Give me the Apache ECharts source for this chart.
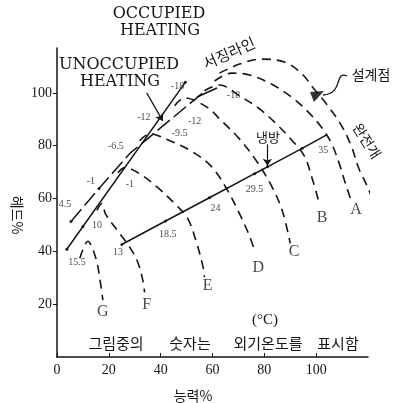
<!DOCTYPE html>
<html>
<head>
<meta charset="utf-8">
<script src="https://cdn.jsdelivr.net/npm/echarts@6/dist/echarts.min.js"></script>
<style>
  html, body { margin: 0; padding: 0; background: #fff; }
  #chart { width: 394px; height: 403px; }
</style>
</head>
<body>
<div id="chart"></div>
<script>
// 축 눈금
const xTicks = [0, 20, 40, 60, 80, 100];
const yTicks = [20, 40, 60, 80, 100];

// 성능곡선 (능력 %, 헤드 %) — 그림에서 읽은 값
const curveG = [[8.8, 37.4], [11.9, 43.8], [15.0, 37.4], [16.5, 29.8], [17.7, 21.5]];
const curveF = [[15.4, 55.5], [17.3, 58.1], [18.8, 54.0], [24.2, 46.8], [28.1, 41.5], [31.2, 35.8], [33.1, 29.1], [33.8, 24.5]];
const curveE = [[23.5, 69.8], [26.2, 71.7], [31.9, 69.4], [38.8, 64.2], [45.4, 58.1], [50.4, 52.5], [53.8, 43.4], [56.2, 34.7], [56.9, 30.2]];
const curveD = [[31.9, 81.9], [35.8, 84.5], [43.5, 81.9], [52.3, 77.7], [59.6, 72.1], [65.4, 63.8], [70.4, 54.3], [74.2, 46.0], [76.5, 39.6]];
const curveC = [[45.4, 95.1], [49.2, 98.1], [57.7, 94.7], [63.5, 89.4], [70.4, 82.6], [76.9, 74.3], [82.7, 64.9], [86.9, 55.5], [90.0, 43.0]];
const curveB = [[56.9, 100.8], [62.7, 103.0], [70.4, 98.9], [78.1, 94.0], [85.0, 87.9], [90.8, 81.9], [95.4, 76.2], [98.5, 67.5], [101.2, 58.1]];
const curveA = [[60.8, 104.5], [67.3, 107.5], [74.2, 106.8], [82.7, 103.4], [90.4, 98.5], [96.5, 93.2], [101.9, 87.2], [105.8, 81.1], [108.8, 73.6], [111.2, 66.0], [113.5, 59.2]];
const curveOpen = [[62.7, 107.5], [70.4, 110.9], [78.8, 112.8], [87.7, 111.7], [94.2, 107.5], [99.2, 101.5], [104.2, 95.5], [109.6, 87.9], [113.5, 80.0], [116.5, 71.3], [119.6, 64.9], [122.7, 57.4]];

// 난방 / 냉방 운전선
const unoccupiedLine = [[3.8, 40.8], [10.0, 49.4], [49.5, 104.0]];
const occupiedLine = [[5.4, 51.3], [16.2, 63.8], [28.0, 77.0], [56.2, 100.0]];
const coolingLine = [[25.0, 42.6], [41.9, 51.5], [58.8, 60.3], [76.2, 69.4], [81.2, 72.0], [94.6, 79.0], [104.2, 84.2]];

// 외기온도 (°C) 표시
const tempLabels = [
  ['15.5', 7.7, 35.8], ['10', 15.4, 49.8], ['4.5', 3.1, 57.7], ['-1', 13.1, 66.4],
  ['-1', 28.1, 65.3], ['-6.5', 22.7, 79.6], ['-12', 33.5, 90.6], ['-18', 46.5, 102.3],
  ['-9.5', 47.3, 84.5], ['-12', 53.1, 89.4], ['-18', 68.1, 98.9],
  ['13', 23.5, 39.6], ['18.5', 42.7, 46.4], ['24', 61.2, 56.2], ['29.5', 76.2, 63.4], ['35', 102.7, 78.1]
];
const curveNames = [
  ['G', 17.7, 17.0], ['F', 34.6, 19.6], ['E', 58.1, 26.8], ['D', 77.7, 33.6],
  ['C', 91.5, 40.0], ['B', 102.3, 52.8], ['A', 115.4, 55.8]
];

// 화살표 (시작점 → 끝점)
const arrows = [
  [[34.6, 100.0], [40.8, 89.4]],   // UNOCCUPIED HEATING
  [[44.2, 120.4], [56.2, 100.0]],  // OCCUPIED HEATING
  [[81.2, 80.5], [81.2, 72.4]]     // 냉방
];

// 하단 주석 (단어별)
const noteWords = ['그림중의', '숫자는', '외기온도를', '표시함'];

const INK = '#151515';
const SERIF = '"Liberation Serif", "DejaVu Serif", serif';
const CAPS = '"DejaVu Serif", serif';
const KR = '"Noto Sans CJK KR", sans-serif';

const chart = echarts.init(document.getElementById('chart'), null, { renderer: 'canvas' });

function dashed(data, dash) {
  return {
    type: 'line',
    data: data,
    smooth: 0.35,
    symbol: 'none',
    clip: false,
    silent: true,
    lineStyle: { color: INK, width: 1.6, type: dash || [9, 6] }
  };
}

function txt(x, y, text, font, rotation) {
  return {
    type: 'text', x: x, y: y, rotation: rotation || 0,
    style: { text: text, font: font, fill: INK, textAlign: 'center', textVerticalAlign: 'middle' }
  };
}

const noteX = [116, 190, 268, 338];

const option = {
  animation: false,
  backgroundColor: '#fff',
  grid: { left: 57, right: 26, top: 48, bottom: 46 },
  xAxis: {
    type: 'value',
    min: 0,
    max: 120,
    axisLine: { lineStyle: { color: INK, width: 1.5 } },
    axisTick: { show: true, inside: true, length: 4, customValues: xTicks, lineStyle: { color: INK } },
    axisLabel: { customValues: xTicks, color: INK, fontSize: 14, fontFamily: SERIF, margin: 6 },
    splitLine: { show: false }
  },
  yAxis: {
    type: 'value',
    min: 0,
    max: 117,
    axisLine: { show: true, lineStyle: { color: INK, width: 1.5 } },
    axisTick: { show: true, length: 4, customValues: yTicks, lineStyle: { color: INK } },
    axisLabel: { customValues: yTicks, color: INK, fontSize: 14, fontFamily: SERIF, margin: 5 },
    splitLine: { show: false }
  },
  series: [
    dashed(curveG), dashed(curveF), dashed(curveE), dashed(curveD),
    dashed(curveC), dashed(curveB), dashed(curveA), dashed(curveOpen),
    {
      type: 'line',
      data: unoccupiedLine,
      symbol: 'circle',
      symbolSize: 3,
      itemStyle: { color: INK },
      lineStyle: { color: INK, width: 1.5 },
      silent: true
    },
    {
      type: 'line',
      data: occupiedLine.map((p, i) => (i < 2 ? p : { value: p, symbol: 'none' })),
      symbol: 'circle',
      symbolSize: 3,
      itemStyle: { color: INK },
      lineStyle: { color: INK, width: 1.5, type: [16, 5] },
      silent: true
    },
    {
      type: 'line',
      data: coolingLine.map((p, i) => (i < coolingLine.length - 1 ? p : { value: p, symbol: 'none' })),
      symbol: 'circle',
      symbolSize: 3,
      itemStyle: { color: INK },
      lineStyle: { color: INK, width: 1.5 },
      silent: true,
      markLine: {
        silent: true,
        symbol: ['none', 'arrow'],
        symbolSize: 7,
        label: { show: false },
        lineStyle: { color: INK, width: 1.2, type: 'solid' },
        data: arrows.map(a => [{ coord: a[0] }, { coord: a[1] }])
      }
    },
    {
      type: 'scatter',
      symbolSize: 0,
      silent: true,
      data: tempLabels.map(t => ({ name: t[0], value: [t[1], t[2]] })),
      label: { show: true, position: 'inside', formatter: '{b}', color: INK, fontSize: 10, fontFamily: SERIF }
    },
    {
      type: 'scatter',
      symbolSize: 0,
      silent: true,
      data: curveNames.map(t => ({ name: t[0], value: [t[1], t[2]] })),
      label: { show: true, position: 'inside', formatter: '{b}', color: INK, fontSize: 16, fontFamily: SERIF }
    }
  ],
  graphic: [
    txt(159, 14, 'OCCUPIED', '16px ' + CAPS),
    txt(160, 31, 'HEATING', '16px ' + CAPS),
    txt(119, 65, 'UNOCCUPIED', '16px ' + CAPS),
    txt(120, 82, 'HEATING', '16px ' + CAPS),
    { type: 'line', shape: { x1: 197, y1: 97, x2: 217, y2: 88 }, style: { stroke: INK, lineWidth: 1.5 } },
    txt(229, 53, '서징라인', '15px ' + KR, 0.42),
    txt(371, 75, '설계점', '14px ' + KR),
    { type: 'bezierCurve', shape: { x1: 347, y1: 76, cpx1: 334, cpy1: 70, cpx2: 344, cpy2: 94, x2: 323, y2: 95 }, style: { stroke: INK, lineWidth: 1.3, fill: null } },
    { type: 'polygon', shape: { points: [[310, 92], [324, 91], [314, 102]] }, style: { fill: '#333' } },
    txt(367, 141, '완전개', '14px ' + KR, -1.0),
    txt(268, 137, '냉방', '13px ' + KR),
    txt(265, 320, '(°C)', '15px ' + SERIF),
    ...noteWords.map((w, i) => txt(noteX[i], 343, w, '15px ' + KR)),
    txt(17, 215, '헤드%', '14px ' + KR, -Math.PI / 2),
    txt(193, 396, '능력%', '14px ' + KR)
  ]
};

chart.setOption(option);
</script>
</body>
</html>
